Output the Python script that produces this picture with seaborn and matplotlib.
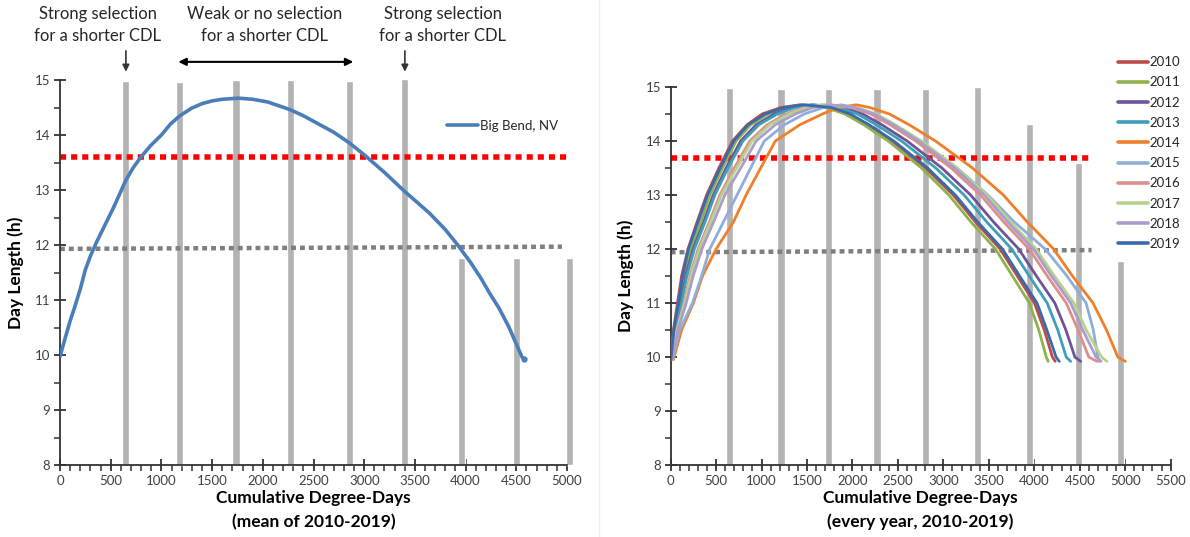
import numpy as np
import pandas as pd
import matplotlib
matplotlib.use("Agg")
import matplotlib.pyplot as plt
from matplotlib.lines import Line2D
from matplotlib.ticker import MultipleLocator
import seaborn as sns

# ---------------- data ----------------
# Left panel: mean curve, Big Bend NV
mean_dd = [0, 50, 100, 150, 200, 250, 300, 360, 440, 528, 650, 720, 790, 890, 1000, 1090,
           1182, 1300, 1400, 1500, 1600, 1760, 1900, 2050, 2271, 2400, 2550, 2700, 2851,
           3000, 3200, 3401, 3520, 3643, 3800, 3922, 4050, 4150, 4238, 4330, 4424, 4500,
           4554, 4575]
mean_dl = [9.97, 10.3, 10.62, 10.9, 11.2, 11.55, 11.8, 12.05, 12.35, 12.68, 13.18, 13.4,
           13.58, 13.8, 14.0, 14.2, 14.35, 14.49, 14.57, 14.62, 14.65, 14.67, 14.65, 14.6,
           14.46, 14.35, 14.2, 14.05, 13.86, 13.64, 13.32, 12.97, 12.78, 12.58, 12.28, 12.0,
           11.68, 11.4, 11.12, 10.85, 10.52, 10.2, 9.97, 9.92]

left_bar_x = [650, 1182, 1736, 2271, 2851, 3401, 3963, 4502, 5026]
left_bar_h = [14.98, 14.96, 15.0, 15.0, 14.98, 15.02, 11.77, 11.77, 11.77]
left_red_level = 13.6
left_gray_start, left_gray_end = 11.93, 11.97

right_bar_x = [646, 1213, 1739, 2269, 2807, 3379, 3950, 4484, 4952]
right_bar_h = [14.99, 14.96, 14.96, 14.96, 14.96, 15.0, 14.31, 13.59, 11.78]
right_red_level = 13.69
right_gray_start, right_gray_end = 11.94, 11.98

# Right panel: day length levels shared by all years, DD at which each year reaches them
day_levels = [9.95, 10.5, 11.0, 11.5, 12.0, 12.5, 13.0, 13.5, 14.0, 14.3, 14.5, 14.62, 14.67,
              14.62, 14.5, 14.3, 14.0, 13.5, 13.0, 12.5, 12.0, 11.5, 11.0, 10.5, 10.0, 9.92]
years = ["2010", "2011", "2012", "2013", "2014", "2015", "2016", "2017", "2018", "2019"]
dd_2010 = [0, 30, 75, 120, 190, 290, 395, 530, 680, 840, 1006, 1213, 1420,
           1748, 1956, 2164, 2435, 2805, 3108, 3354, 3624, 3813, 4002, 4110, 4200, 4230]
dd_2011 = [3, 39, 93, 143, 218, 331, 432, 570, 720, 880, 1072, 1277, 1482,
           1710, 1917, 2124, 2393, 2760, 3060, 3304, 3573, 3760, 3946, 4050, 4132, 4153]
dd_2012 = [6, 48, 110, 166, 246, 363, 468, 610, 770, 940, 1139, 1340, 1544,
           1902, 2113, 2324, 2601, 2984, 3300, 3552, 3829, 4024, 4226, 4348, 4447, 4510]
dd_2013 = [8, 53, 119, 178, 260, 378, 486, 630, 795, 970, 1172, 1372, 1575,
           1844, 2054, 2264, 2539, 2917, 3228, 3478, 3752, 3945, 4142, 4259, 4352, 4400]
dd_2014 = [30, 120, 250, 350, 500, 690, 830, 990, 1151, 1420, 1669, 1850, 2041,
           2190, 2407, 2624, 2913, 3320, 3660, 3924, 4213, 4420, 4646, 4795, 4919, 5002]
dd_2015 = [20, 100, 240, 340, 430, 580, 730, 880, 1030, 1250, 1470, 1680, 1876,
           2030, 2245, 2460, 2750, 3150, 3490, 3780, 4120, 4360, 4570, 4650, 4700, 4712]
dd_2016 = [12, 66, 145, 212, 301, 425, 541, 700, 870, 1060, 1271, 1468, 1668,
           1988, 2201, 2414, 2695, 3085, 3408, 3664, 3944, 4143, 4352, 4482, 4600, 4690]
dd_2017 = [14, 71, 154, 224, 315, 441, 559, 725, 895, 1090, 1304, 1500, 1699,
           2046, 2260, 2474, 2757, 3152, 3480, 3738, 4021, 4222, 4436, 4572, 4740, 4800]
dd_2018 = [17, 80, 171, 247, 343, 472, 596, 770, 940, 1150, 1371, 1563, 1762,
           2022, 2236, 2449, 2731, 3124, 3450, 3707, 3989, 4189, 4401, 4534, 4680, 4735]
dd_2019 = [2, 35, 84, 132, 195, 300, 405, 545, 695, 850, 1039, 1245, 1451,
           1768, 1976, 2184, 2455, 2827, 3132, 3378, 3650, 3839, 4030, 4139, 4240, 4275]
year_dd = [dd_2010, dd_2011, dd_2012, dd_2013, dd_2014, dd_2015, dd_2016, dd_2017, dd_2018, dd_2019]
year_colors = ["#BE4B48", "#8FB24C", "#6E5496", "#3E9FBA", "#F07F2A",
               "#8EAEDA", "#DE8E8C", "#B6D38C", "#AC9CCB", "#3A6AAE"]

# ---------------- style ----------------
sns.set_theme(style="white")
plt.rcParams["font.family"] = ["Lato", "DejaVu Sans"]
BAR_C = "#B3B3B3"
AX_C = "#333333"
TXT_C = "#262626"

fig = plt.figure(figsize=(11.9, 5.37), dpi=100)
axL = fig.add_axes([0.0504, 0.134, 0.4261, 0.717])
axR = fig.add_axes([0.5636, 0.134, 0.4201, 0.704])

# faint divider
fig.add_artist(Line2D([0.503, 0.503], [0.0, 1.0], color="#F0F0F0", lw=1))


def style_axis(ax, xmax):
    ax.set_ylim(8, 15)
    ax.set_xlim(0, xmax)
    for s in ["top", "right"]:
        ax.spines[s].set_visible(False)
    for s in ["left", "bottom"]:
        ax.spines[s].set_color(AX_C)
        ax.spines[s].set_linewidth(1.3)
    ax.xaxis.set_major_locator(MultipleLocator(500))
    ax.xaxis.set_minor_locator(MultipleLocator(100))
    ax.yaxis.set_major_locator(MultipleLocator(1))
    ax.yaxis.set_minor_locator(MultipleLocator(0.5))
    ax.tick_params(which="major", direction="inout", length=8, width=1.3, color=AX_C,
                   labelsize=9.5, labelcolor="#404040", bottom=True, left=True, pad=3)
    ax.tick_params(which="minor", direction="out", length=4, width=1.1, color=AX_C,
                   bottom=True, left=True)
    ax.set_ylabel("Day Length (h)", fontsize=12.5, fontweight="bold", color="black", labelpad=8)
    ax.grid(False)
    ax.set_facecolor("white")


# ---------------- left panel ----------------
style_axis(axL, 5000)
axL.bar(left_bar_x, [h - 8 for h in left_bar_h], bottom=8, width=70, color=BAR_C,
        zorder=1, clip_on=False)
axL.plot([0, 5000], [left_red_level, left_red_level], color="#FF0000", lw=4,
         linestyle=(0, (1.1, 0.9)), zorder=2, solid_capstyle="butt")
axL.plot([0, 4950], [left_gray_start, left_gray_end], color="#7F7F7F", lw=3.2,
         linestyle=(0, (1.1, 0.9)), zorder=2)
mean_df = pd.DataFrame({"dd": mean_dd, "dl": mean_dl, "site": "Big Bend, NV"})
sns.lineplot(data=mean_df, x="dd", y="dl", hue="site", palette=["#4A7EBB"], lw=2.6,
             sort=False, estimator=None, ax=axL, zorder=3)
axL.plot([mean_dd[-1]], [mean_dl[-1]], "o", color="#4A7EBB", ms=3.5, zorder=3)
axL.legend(loc="upper left", bbox_to_anchor=(0.752, 0.91), frameon=False, fontsize=9.5,
           handlelength=2.4, handletextpad=0.1, borderaxespad=0)
axL.set_xlabel("Cumulative Degree-Days\n(mean of 2010-2019)", fontsize=12.5,
               fontweight="bold", color="black", linespacing=1.6, labelpad=2)

# annotations
for txt, cx in [("Strong selection\nfor a shorter CDL", 372),
                ("Weak or no selection\nfor a shorter CDL", 2020),
                ("Strong selection\nfor a shorter CDL", 3773)]:
    axL.text(cx, 16.0, txt, ha="center", va="center", fontsize=12, color=TXT_C,
             linespacing=1.45, clip_on=False)
for ax_x in [650, 3401]:
    axL.annotate("", xy=(ax_x, 15.1), xytext=(ax_x, 15.58),
                 arrowprops=dict(arrowstyle="-|>", color="#333333", lw=1.2,
                                 mutation_scale=10), annotation_clip=False)
axL.annotate("", xy=(1140, 15.33), xytext=(2920, 15.33),
             arrowprops=dict(arrowstyle="<|-|>", color="black", lw=1.5,
                             mutation_scale=11), annotation_clip=False)

# ---------------- right panel ----------------
style_axis(axR, 5500)
axR.set_xticks(np.arange(0, 5501, 500))
axR.bar(right_bar_x, [h - 8 for h in right_bar_h], bottom=8, width=80, color=BAR_C, zorder=1)
axR.plot([0, 4600], [right_red_level, right_red_level], color="#FF0000", lw=4,
         linestyle=(0, (1.1, 0.9)), zorder=2)
axR.plot([0, 4630], [right_gray_start, right_gray_end], color="#7F7F7F", lw=3.2,
         linestyle=(0, (1.1, 0.9)), zorder=2)

rows = []
for yr, dds in zip(years, year_dd):
    for i, (d, l) in enumerate(zip(dds, day_levels)):
        rows.append({"year": yr, "dd": d, "dl": l, "order": i})
yr_df = pd.DataFrame(rows)
sns.lineplot(data=yr_df, x="dd", y="dl", hue="year", palette=year_colors, lw=2.0,
             sort=False, estimator=None, units="year", ax=axR, zorder=3)
handles = [Line2D([0], [0], color=c, lw=2.6) for c in year_colors]
axR.legend(handles, years, loc="upper left", bbox_to_anchor=(0.935, 0.905),
           bbox_transform=fig.transFigure, frameon=False, fontsize=9.5, handlelength=2.3,
           handletextpad=0.1, labelspacing=0.62, borderaxespad=0)
axR.set_xlabel("Cumulative Degree-Days\n(every year, 2010-2019)", fontsize=12.5,
               fontweight="bold", color="black", linespacing=1.6, labelpad=2)

fig.savefig("out.png", dpi=100, facecolor="white")
